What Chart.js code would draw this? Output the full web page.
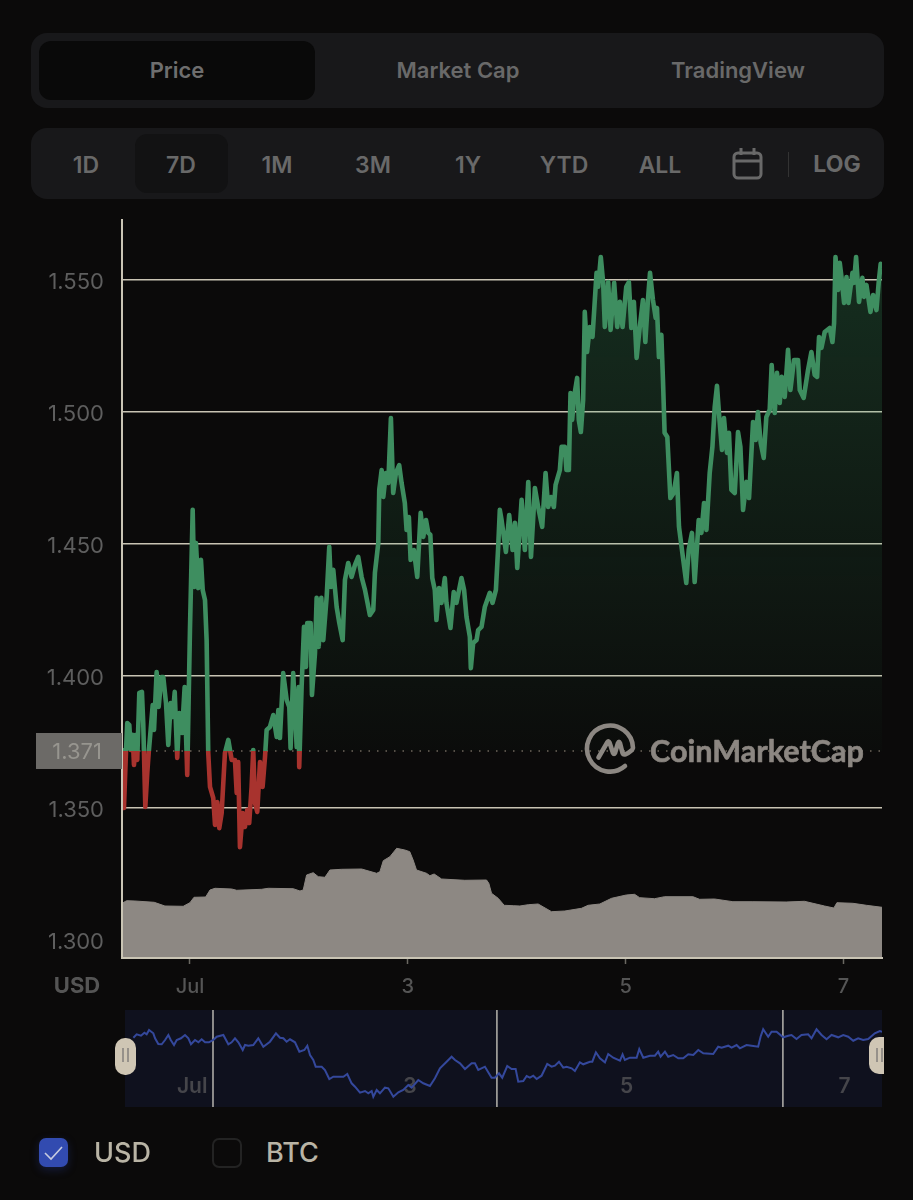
<!DOCTYPE html>
<html lang="en">
<head>
<meta charset="utf-8">
<title>Price chart</title>
<script src="https://cdn.jsdelivr.net/npm/chart.js@4"></script>
<style>
html,body{margin:0;padding:0;background:#0b0a0a;width:913px;height:1200px;overflow:hidden;font-family:Inter,"Noto Sans",sans-serif}
.abs{position:absolute}
.panel{position:absolute;left:31px;width:853px;background:#18181a;border-radius:16px}
.t{position:absolute;transform:translate(-50%,-50%);white-space:nowrap;font-weight:600;color:#696969}
canvas{position:absolute;display:block}
</style>
</head>
<body>
<div class="panel" style="top:33px;height:75px"></div>
<div class="abs" style="left:39px;top:41px;width:276px;height:59px;background:#090909;border-radius:12px"></div>
<div class="t" style="left:177px;top:70px;font-size:22px;color:#6e6e6e">Price</div>
<div class="t" style="left:458px;top:70px;font-size:22px">Market Cap</div>
<div class="t" style="left:738px;top:70px;font-size:22px">TradingView</div>

<div class="panel" style="top:128px;height:71px"></div>
<div class="abs" style="left:135px;top:134px;width:93px;height:59px;background:#121213;border-radius:12px"></div>
<div class="t" style="left:86px;top:165px;font-size:23px">1D</div>
<div class="t" style="left:181px;top:165px;font-size:23px">7D</div>
<div class="t" style="left:277px;top:165px;font-size:23px">1M</div>
<div class="t" style="left:373px;top:165px;font-size:23px">3M</div>
<div class="t" style="left:468px;top:165px;font-size:23px">1Y</div>
<div class="t" style="left:564px;top:165px;font-size:23px">YTD</div>
<div class="t" style="left:660px;top:165px;font-size:23px">ALL</div>
<svg class="abs" style="left:730px;top:146px" width="36" height="36" viewBox="0 0 36 36" fill="none" stroke="#696969" stroke-width="3">
  <rect x="4" y="7" width="27" height="25" rx="4"/><path d="M4 15H31M11 2V9M24 2V9"/>
</svg>
<div class="abs" style="left:788px;top:152px;width:1px;height:25px;background:#333"></div>
<div class="t" style="left:837px;top:164px;font-size:23px;font-weight:700">LOG</div>

<canvas id="main" style="left:0;top:200px" width="913" height="800"></canvas>
<div class="t" style="left:77px;top:985px;font-size:22px;font-weight:700;color:#555">USD</div>

<svg class="abs" style="left:580px;top:715px" width="300" height="65" viewBox="580 715 300 65" fill="none" stroke="#8c8782" stroke-width="4.6" stroke-linecap="round" stroke-linejoin="round">
  <path d="M633 748A23 23 0 1 0 625 766"/>
  <path d="M598.5 757.5L607.5 742Q608.5 740.5 609.5 742.5L613 753Q614 755 615 753L618 743Q619 740.5 620 743L622.5 753Q624 757 632 750"/>
  <text x="650" y="762" stroke="#8c8782" stroke-width="0.6" fill="#8c8782" font-family="Lato,'Open Sans',sans-serif" font-weight="700" font-size="30" textLength="214" lengthAdjust="spacingAndGlyphs">CoinMarketCap</text>
</svg>

<canvas id="nav" style="left:125px;top:1010px;background:#0f111e" width="757" height="97"></canvas>
<div class="abs" style="left:115px;top:1038px;width:21px;height:37px;background:#cfc6b4;border-radius:10px"></div>
<div class="abs" style="left:122px;top:1048px;width:2px;height:14px;background:#96918a"></div>
<div class="abs" style="left:127px;top:1048px;width:2px;height:14px;background:#96918a"></div>
<div class="abs" style="left:869px;top:1037px;width:15px;height:37px;background:#cfc6b4;border-radius:10px 0 0 10px"></div>
<div class="abs" style="left:876px;top:1048px;width:2px;height:14px;background:#96918a"></div>
<div class="abs" style="left:881px;top:1048px;width:2px;height:14px;background:#96918a"></div>

<div class="abs" style="left:39px;top:1138px;width:29px;height:29px;background:#324bb0;border-radius:7px;box-shadow:0 3px 8px rgba(40,60,150,.35)"></div>
<svg class="abs" style="left:39px;top:1138px" width="29" height="29" fill="none" stroke="#c6cbe0" stroke-width="1.6"><path d="M6 15L12 21L23 9"/></svg>
<div class="abs" style="left:94px;top:1136px;font-size:27px;line-height:33px;font-weight:500;color:#b9b4a5">USD</div>
<div class="abs" style="left:212px;top:1138px;width:26px;height:26px;border:2px solid #232323;border-radius:7px"></div>
<div class="abs" style="left:266px;top:1136px;font-size:27px;line-height:33px;font-weight:500;color:#b9b4a5">BTC</div>

<script>
const axisDays = [0.376, 7.354];
const baselinePrice = 1.3714;
const baselineLabel = "1.371";
const priceTicks = [1.30, 1.35, 1.40, 1.45, 1.50, 1.55];
const priceRange = [1.2930, 1.5725];
const dayTicks = [1, 3, 5, 7];
const dayLabels = ["Jul", "3", "5", "7"];

const priceDays = [
0.376,0.394,0.412,0.424,0.443,0.456,0.474,0.486,0.504,0.516,0.535,0.559,0.571,0.590,0.608,0.621,0.639,0.658,0.670,0.694,
0.713,0.737,0.755,0.780,0.801,0.823,0.841,0.860,0.883,0.902,0.927,0.951,0.975,1.000,1.025,1.039,1.055,1.076,1.101,1.117,
1.138,1.153,1.168,1.184,1.214,1.230,1.251,1.269,1.291,1.321,1.352,1.383,1.413,1.429,1.443,1.459,1.484,1.505,1.526,1.544,
1.566,1.581,1.597,1.618,1.643,1.667,1.689,1.704,1.734,1.765,1.796,1.811,1.826,1.856,1.888,1.912,1.924,1.948,1.980,1.998,
2.003,2.025,2.047,2.065,2.077,2.108,2.120,2.148,2.163,2.182,2.206,2.224,2.255,2.279,2.295,2.316,2.347,2.371,2.402,2.423,
2.453,2.484,2.515,2.545,2.576,2.607,2.652,2.683,2.698,2.729,2.738,2.760,2.775,2.799,2.821,2.845,2.866,2.891,2.921,2.943,
2.973,2.989,3.010,3.026,3.056,3.087,3.118,3.142,3.167,3.188,3.207,3.225,3.248,3.263,3.287,3.309,3.340,3.355,3.392,3.422,
3.447,3.493,3.517,3.539,3.570,3.579,3.600,3.631,3.646,3.677,3.707,3.753,3.778,3.809,3.830,3.845,3.861,3.901,3.931,3.962,
3.984,4.005,4.045,4.075,4.106,4.131,4.167,4.197,4.234,4.265,4.289,4.314,4.341,4.357,4.396,4.412,4.442,4.457,4.479,4.494,
4.509,4.527,4.555,4.570,4.589,4.610,4.625,4.646,4.671,4.696,4.733,4.748,4.772,4.794,4.809,4.840,4.862,4.895,4.923,4.947,
4.972,5.006,5.030,5.052,5.076,5.101,5.129,5.159,5.181,5.205,5.224,5.251,5.276,5.288,5.306,5.328,5.343,5.358,5.383,5.411,
5.441,5.471,5.490,5.521,5.557,5.579,5.609,5.634,5.671,5.696,5.720,5.742,5.772,5.797,5.818,5.839,5.857,5.885,5.903,5.931,
5.949,5.971,6.002,6.032,6.054,6.078,6.109,6.133,6.170,6.194,6.215,6.240,6.268,6.292,6.323,6.341,6.369,6.390,6.415,6.433,
6.461,6.491,6.513,6.546,6.583,6.599,6.635,6.675,6.706,6.736,6.758,6.776,6.798,6.828,6.874,6.899,6.914,6.927,6.951,6.966,
6.982,7.006,7.028,7.046,7.083,7.097,7.116,7.143,7.174,7.189,7.211,7.248,7.272,7.303,7.324,7.342,7.354];

const priceValues = [
1.3725,1.3498,1.3706,1.3820,1.3813,1.3718,1.3775,1.3661,1.3775,1.3680,1.3934,1.3938,1.3820,1.3502,1.3631,1.3706,1.3794,1.3888,1.3794,1.4013,
1.3881,1.3994,1.3994,1.3896,1.3737,1.3896,1.3843,1.3938,1.3688,1.3858,1.3782,1.3956,1.3623,1.4172,1.4627,1.4335,1.4502,1.4331,1.4438,1.4324,
1.4286,1.4134,1.3706,1.3578,1.3536,1.3434,1.3521,1.3422,1.3479,1.3706,1.3756,1.3680,1.3680,1.3555,1.3672,1.3350,1.3479,1.3426,1.3491,1.3441,
1.3578,1.3718,1.3517,1.3483,1.3672,1.3578,1.3691,1.3794,1.3805,1.3850,1.3767,1.3869,1.3763,1.4009,1.3907,1.3881,1.3725,1.4009,1.3729,1.3956,
1.3653,1.3956,1.4184,1.4032,1.4199,1.4199,1.3926,1.4085,1.4294,1.4108,1.4294,1.4134,1.4297,1.4487,1.4335,1.4400,1.4259,1.4199,1.4134,1.4362,
1.4426,1.4373,1.4419,1.4449,1.4373,1.4324,1.4229,1.4248,1.4388,1.4502,1.4703,1.4778,1.4676,1.4767,1.4729,1.4975,1.4691,1.4767,1.4797,1.4729,
1.4653,1.4551,1.4600,1.4438,1.4475,1.4373,1.4616,1.4525,1.4589,1.4540,1.4533,1.4369,1.4324,1.4210,1.4331,1.4275,1.4369,1.4275,1.4180,1.4316,
1.4275,1.4369,1.4324,1.4222,1.4146,1.4028,1.4123,1.4134,1.4172,1.4184,1.4259,1.4313,1.4275,1.4324,1.4487,1.4627,1.4589,1.4468,1.4608,1.4475,
1.4578,1.4407,1.4665,1.4475,1.4733,1.4449,1.4710,1.4638,1.4563,1.4767,1.4638,1.4676,1.4638,1.4722,1.4778,1.4866,1.4866,1.4778,1.4778,1.5070,
1.4968,1.5055,1.5127,1.4968,1.4922,1.5044,1.5377,1.5225,1.5320,1.5282,1.5525,1.5472,1.5585,1.5487,1.5320,1.5490,1.5309,1.5487,1.5320,1.5415,
1.5320,1.5472,1.5490,1.5316,1.5415,1.5203,1.5316,1.5422,1.5263,1.5422,1.5525,1.5422,1.5354,1.5392,1.5206,1.5290,1.5119,1.4919,1.4903,1.4672,
1.4691,1.4767,1.4563,1.4464,1.4350,1.4475,1.4540,1.4354,1.4589,1.4540,1.4653,1.4551,1.4767,1.4866,1.5017,1.5097,1.4994,1.4854,1.4975,1.4843,
1.4919,1.4703,1.4691,1.4922,1.4866,1.4627,1.4733,1.4672,1.4960,1.4892,1.4998,1.4881,1.4824,1.4979,1.5006,1.5176,1.4994,1.5146,1.5032,1.5131,
1.5055,1.5233,1.5081,1.5195,1.5195,1.5081,1.5051,1.5157,1.5225,1.5138,1.5131,1.5282,1.5241,1.5301,1.5316,1.5263,1.5335,1.5585,1.5460,1.5563,
1.5509,1.5411,1.5509,1.5411,1.5525,1.5487,1.5585,1.5415,1.5506,1.5434,1.5479,1.5377,1.5441,1.5384,1.5490,1.5559,1.5540];

const volumeDays = [
0.376,0.419,0.495,0.672,0.770,0.938,1.000,1.037,1.144,1.184,1.230,1.383,1.429,1.658,1.719,1.948,2.010,2.040,2.071,2.132,
2.178,2.239,2.285,2.392,2.576,2.714,2.744,2.775,2.836,2.898,2.973,3.018,3.049,3.080,3.172,3.203,3.242,3.310,3.523,3.723,
3.744,3.769,3.830,3.885,3.968,4.029,4.106,4.197,4.320,4.442,4.595,4.656,4.763,4.871,5.006,5.082,5.129,5.266,5.358,5.618,
5.679,5.817,5.985,6.169,6.474,6.642,6.826,6.912,6.940,7.087,7.211,7.354];
const volumeValues = [
547,573,570,557,520,517,553,607,610,680,697,690,677,687,697,693,670,680,830,853,
813,807,880,887,890,847,863,973,1013,1097,1080,1063,980,880,847,823,840,790,777,780,
747,647,597,527,523,520,533,540,463,470,497,527,540,597,630,637,603,593,613,613,
587,590,563,563,560,567,520,500,553,547,527,507];
const volumeRange = [0, 7380];

const navDays = [
0.480,0.510,0.550,0.581,0.602,0.624,0.663,0.679,0.709,0.740,0.771,0.801,0.823,0.853,0.878,0.917,0.954,0.985,1.009,1.046,
1.077,1.107,1.138,1.174,1.214,1.245,1.306,1.352,1.382,1.413,1.444,1.484,1.505,1.535,1.581,1.627,1.673,1.734,1.789,1.826,
1.857,1.887,1.918,1.964,2.004,2.050,2.077,2.102,2.132,2.154,2.209,2.239,2.279,2.316,2.362,2.408,2.444,2.484,2.515,2.561,
2.607,2.637,2.668,2.683,2.714,2.744,2.790,2.821,2.867,2.913,2.958,3.004,3.035,3.096,3.142,3.203,3.249,3.295,3.356,3.402,
3.433,3.479,3.525,3.586,3.616,3.647,3.708,3.769,3.800,3.837,3.867,3.913,3.953,3.990,4.014,4.060,4.091,4.121,4.152,4.183,
4.228,4.280,4.320,4.351,4.388,4.427,4.458,4.504,4.534,4.580,4.611,4.672,4.694,4.727,4.764,4.810,4.840,4.886,4.948,4.972,
4.993,5.039,5.101,5.125,5.162,5.223,5.269,5.299,5.321,5.361,5.391,5.437,5.483,5.529,5.575,5.621,5.667,5.713,5.804,5.850,
5.881,5.942,5.973,6.019,6.049,6.110,6.156,6.217,6.239,6.263,6.309,6.340,6.386,6.447,6.493,6.523,6.569,6.615,6.676,6.707,
6.753,6.799,6.845,6.891,6.952,6.998,7.044,7.090,7.135,7.181,7.227,7.288,7.334,7.354];
const navValues = [
69.3,72.7,71.3,74.3,72.7,77,73.7,68.7,63,62.7,67,72,67,62,67,68.7,72,68.7,62.7,67,
64.7,67.7,64.7,64.7,67,70.3,72,62.7,64.7,68.7,64.7,57,62,61.3,62,68.7,60.3,65.3,73.7,69.3,
68.7,65.3,67.7,64.7,55.3,57,61.3,52,47,40.3,40.3,37,28,30.3,30.3,30.3,33,23.7,20.3,14.3,
16,13.7,16,10.3,17,13.7,19.3,18.7,10.3,14.7,17,22,19.3,27,23.7,21,28.7,38.7,45.3,50.3,
47,43.7,38,43.7,43.7,37,40.3,29.3,29.3,33.7,29.3,41,38,38,25.3,26,31,29.3,31.3,28,
31.3,43,40.3,41.3,45.3,39.3,40.3,38.7,36,44.7,42.7,45.3,45.3,54.7,48.7,44.7,53,49.3,46.3,52.7,
47,49.3,49.3,58,49.3,51.3,51.3,55.3,50.3,55.3,50.3,52,48.7,48.7,52.7,52,57,53.7,53,60.3,
59.3,61.3,59.3,62,58.7,62,61.3,60.3,70.3,77.7,70.3,75.3,75.3,69.7,71.3,72,68,72,72.7,68.7,
77.7,72,67.7,72,69.7,72,70.3,66.3,68.7,67,68,73.7,76,75.3];
const navRange = [0, 97];
const navAxisDays = [0.403, 7.354];
const navTicks = [1.02, 3.02, 5.01, 7.01];
const navMarkerDays = [1.211, 3.818, 6.444];

const pale = "#c9c4b4";
const GREEN = "#3e8e60";
const RED = "#a8332e";
const zipXY = (xs, ys) => xs.map((x, i) => ({x, y: ys[i]}));

function lineStroke(ctx) {
  const c = ctx.chart, a = c.chartArea;
  if (!a) return GREEN;
  const g = c.ctx.createLinearGradient(0, a.top, 0, a.bottom);
  const s = (c.scales.y.getPixelForValue(baselinePrice) - a.top) / (a.bottom - a.top);
  g.addColorStop(0, GREEN); g.addColorStop(s, GREEN); g.addColorStop(s, RED); g.addColorStop(1, RED);
  return g;
}
function lineFill(ctx) {
  const c = ctx.chart, a = c.chartArea;
  if (!a) return "transparent";
  const g = c.ctx.createLinearGradient(0, a.top, 0, a.bottom);
  const s = (c.scales.y.getPixelForValue(baselinePrice) - a.top) / (a.bottom - a.top);
  g.addColorStop(0, "rgba(60,170,105,0.24)");
  g.addColorStop(s, "rgba(60,170,105,0.02)");
  g.addColorStop(s, "rgba(0,0,0,0)");
  g.addColorStop(1, "rgba(0,0,0,0)");
  return g;
}

const baselineTag = {
  id: "baselineTag",
  afterDraw(chart) {
    const c = chart.ctx, y = chart.scales.y.getPixelForValue(baselinePrice);
    c.save();
    c.fillStyle = "#6c6a67";
    c.fillRect(36, y - 18, chart.chartArea.left - 36, 36);
    c.fillStyle = "#97958f";
    c.font = "22px Inter";
    c.textAlign = "right";
    c.textBaseline = "middle";
    c.fillText(baselineLabel, 102, y + 1);
    c.restore();
  }
};

new Chart(document.getElementById("main"), {
  type: "line",
  plugins: [baselineTag],
  data: { datasets: [
    { label: "Price", data: zipXY(priceDays, priceValues), yAxisID: "y", order: 1,
      borderColor: lineStroke, backgroundColor: lineFill, borderWidth: 4.6, pointRadius: 0, tension: 0,
      borderJoinStyle: "round", fill: {value: baselinePrice} },
    { label: "Baseline", data: zipXY(axisDays, [baselinePrice, baselinePrice]), yAxisID: "y", order: 2,
      borderColor: "#6f665c", borderWidth: 1.5, borderDash: [1.5, 7], pointRadius: 0, fill: false },
    { label: "Volume", data: zipXY(volumeDays, volumeValues), yAxisID: "y2", order: 3,
      borderColor: "#8d8883", backgroundColor: "#8d8883", borderWidth: 1, pointRadius: 0, tension: 0, fill: "origin" }
  ]},
  options: {
    responsive: false, animation: false, devicePixelRatio: 1,
    layout: { padding: { top: 20, right: 31, left: 0, bottom: 0 } },
    plugins: { legend: {display: false}, tooltip: {enabled: false} },
    scales: {
      x: { type: "linear", min: axisDays[0], max: axisDays[1],
        afterBuildTicks: s => { s.ticks = dayTicks.map(value => ({value})); },
        afterFit: s => { s.height = 42; s.paddingLeft = 0; s.paddingRight = 0; },
        grid: { drawOnChartArea: false, drawTicks: true, tickLength: 6, tickColor: "#6a6862", tickWidth: 1.5 },
        border: { color: pale, width: 2, z: 1 },
        ticks: { color: "#555555", font: {family: "Inter", size: 20, weight: "500"}, padding: 11, maxRotation: 0, autoSkip: false,
          callback: v => dayLabels[dayTicks.indexOf(v)] } },
      y: { type: "linear", position: "left", min: priceRange[0], max: priceRange[1],
        afterBuildTicks: s => { s.ticks = priceTicks.map(value => ({value})); },
        afterFit: s => { s.width = 122; s.paddingTop = 0; s.paddingBottom = 0; },
        grid: { color: pale, lineWidth: 1.6, drawTicks: false },
        border: { color: pale, width: 2, z: 1 },
        ticks: { color: "#5e5e5e", font: {family: "Inter", size: 22}, padding: 18, labelOffset: 2.5,
          callback: v => v.toFixed(3) } },
      y2: { type: "linear", display: false, min: volumeRange[0], max: volumeRange[1] }
    }
  }
});

const markerPoints = navMarkerDays.flatMap(d => [{x: d, y: navRange[0]}, {x: d, y: navRange[1]}, {x: d, y: null}]);
new Chart(document.getElementById("nav"), {
  type: "line",
  data: { datasets: [
    { label: "History", data: zipXY(navDays, navValues), order: 1, borderColor: "#34489c", borderWidth: 2,
      pointRadius: 0, tension: 0, fill: false },
    { label: "Markers", data: markerPoints, order: 2, borderColor: "#b5b3ad", borderWidth: 1.5,
      pointRadius: 0, spanGaps: false, fill: false }
  ]},
  options: {
    responsive: false, animation: false, devicePixelRatio: 1,
    layout: { padding: 0 },
    plugins: { legend: {display: false}, tooltip: {enabled: false} },
    scales: {
      x: { type: "linear", min: navAxisDays[0], max: navAxisDays[1],
        afterBuildTicks: s => { s.ticks = navTicks.map(value => ({value})); },
        afterFit: s => { s.height = 0; s.paddingLeft = 0; s.paddingRight = 0; },
        grid: { display: false, drawTicks: false }, border: { display: false },
        ticks: { mirror: true, padding: 8, color: "#45454a", font: {family: "Inter", size: 21, weight: "600"}, maxRotation: 0, autoSkip: false,
          callback: v => dayLabels[navTicks.indexOf(v)] } },
      y: { type: "linear", display: false, min: navRange[0], max: navRange[1] }
    }
  }
});
</script>
</body>
</html>
